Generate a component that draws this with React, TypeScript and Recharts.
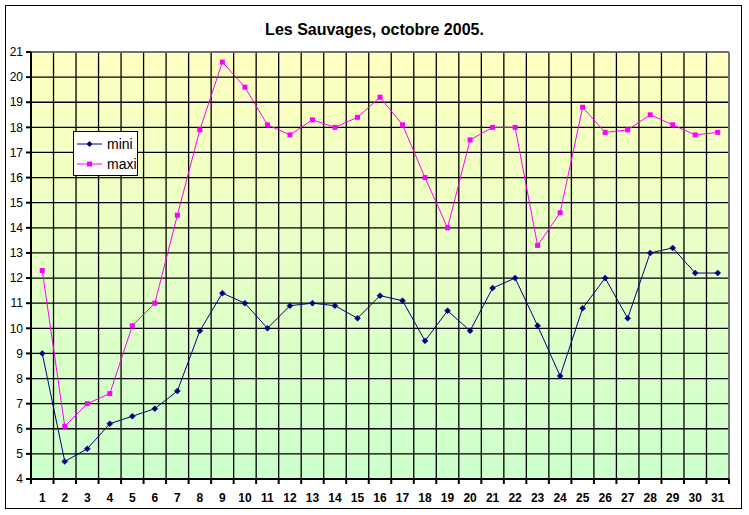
import React from 'react';
import { LineChart, Line, XAxis, YAxis, CartesianGrid, Legend, ReferenceLine } from 'recharts';

const days = [1,2,3,4,5,6,7,8,9,10,11,12,13,14,15,16,17,18,19,20,21,22,23,24,25,26,27,28,29,30,31];
const mini = [9.0,4.7,5.2,6.2,6.5,6.8,7.5,9.9,11.4,11.0,10.0,10.9,11.0,10.9,10.4,11.3,11.1,9.5,10.7,9.9,11.6,12.0,10.1,8.1,10.8,12.0,10.4,13.0,13.2,12.2,12.2];
const maxi = [12.3,6.1,7.0,7.4,10.1,11.0,14.5,17.9,20.6,19.6,18.1,17.7,18.3,18.0,18.4,19.2,18.1,16.0,14.0,17.5,18.0,18.0,13.3,14.6,18.8,17.8,17.9,18.5,18.1,17.7,17.8];
const yTicks = [4,5,6,7,8,9,10,11,12,13,14,15,16,17,18,19,20,21];
const boundaryTicks = [0.5,1.5,2.5,3.5,4.5,5.5,6.5,7.5,8.5,9.5,10.5,11.5,12.5,13.5,14.5,15.5,16.5,17.5,18.5,19.5,20.5,21.5,22.5,23.5,24.5,25.5,26.5,27.5,28.5,29.5,30.5,31.5];
const seriesNames = ['mini', 'maxi'];
const title = 'Les Sauvages, octobre 2005.';

const data = days.map((d, i) => ({ day: d, mini: mini[i], maxi: maxi[i] }));

const MINI_COLOR = '#000080';
const MAXI_COLOR = '#FF00FF';

const Diamond = (props: any) => {
  const { cx, cy, index } = props;
  if (cx == null || cy == null) return <g key={'d' + index} />;
  const s = 3;
  return (
    <polygon
      key={'d' + index}
      points={`${cx},${cy - s} ${cx + s},${cy} ${cx},${cy + s} ${cx - s},${cy}`}
      fill={MINI_COLOR}
      stroke={MINI_COLOR}
      strokeWidth={0.5}
    />
  );
};

const Square = (props: any) => {
  const { cx, cy, index } = props;
  if (cx == null || cy == null) return <g key={'s' + index} />;
  return <rect key={'s' + index} x={cx - 2.5} y={cy - 2.5} width={5} height={5} fill={MAXI_COLOR} />;
};

const LegendBox = (props: any) => {
  const payload = [...(props.payload || [])].sort(
    (a: any, b: any) => seriesNames.indexOf(a.value) - seriesNames.indexOf(b.value)
  );
  return (
    <div
      style={{
        border: '1px solid #000',
        background: '#fff',
        width: 65,
        height: 45,
        boxSizing: 'border-box',
        paddingTop: 2,
      }}
    >
      {payload.map((p: any) => (
        <div key={p.value} style={{ display: 'flex', alignItems: 'center', height: 20 }}>
          <svg width={33} height={10} style={{ display: 'block', flex: 'none' }}>
            <line x1={3} x2={28} y1={5} y2={5} stroke={p.color} strokeWidth={1} />
            {p.value === 'mini' ? (
              <polygon points="15.5,2 18.5,5 15.5,8 12.5,5" fill={p.color} />
            ) : (
              <rect x={13} y={2.5} width={5} height={5} fill={p.color} />
            )}
          </svg>
          <span style={{ fontSize: 14, color: '#000', lineHeight: '14px' }}>{p.value}</span>
        </div>
      ))}
    </div>
  );
};

export default function App() {
  return (
    <div
      style={{
        position: 'absolute',
        left: 0,
        top: 0,
        width: 749,
        height: 515,
        background: '#fff',
        fontFamily: '"Liberation Sans", Arial, sans-serif',
      }}
    >
      <div
        style={{
          position: 'absolute',
          left: 5,
          top: 5,
          width: 737,
          height: 504,
          border: '1px solid #000',
          boxSizing: 'border-box',
        }}
      />
      <div
        style={{
          position: 'absolute',
          left: 0,
          width: 749,
          top: 21,
          textAlign: 'center',
          fontSize: 16,
          fontWeight: 'bold',
          color: '#000',
        }}
      >
        {title}
      </div>
      <div style={{ position: 'absolute', left: 0, top: 0 }}>
        <LineChart width={749} height={515} data={data} margin={{ top: 52, right: 20, bottom: 0, left: 0 }}>
          <defs>
            <linearGradient id="bg" x1="0" y1="0" x2="0" y2="1">
              <stop offset="0%" stopColor="#FFFFC0" />
              <stop offset="100%" stopColor="#CCFFCC" />
            </linearGradient>
          </defs>
          <CartesianGrid
            xAxisId="grid"
            fill="url(#bg)"
            fillOpacity={1}
            stroke="#000"
            strokeWidth={1.3}
          />
          <XAxis
            xAxisId="grid"
            dataKey="day"
            type="number"
            domain={[0.5, 31.5]}
            ticks={boundaryTicks}
            interval={0}
            height={6}
            tickSize={5}
            tickFormatter={() => ''}
            axisLine={{ stroke: '#000', strokeWidth: 2 }}
            tickLine={{ stroke: '#000', strokeWidth: 2 }}
            allowDataOverflow
          />
          <XAxis
            xAxisId="label"
            dataKey="day"
            type="number"
            domain={[0.5, 31.5]}
            ticks={days}
            interval={0}
            height={30}
            tickSize={0}
            tickMargin={8}
            axisLine={false}
            tickLine={false}
            tick={{ fill: '#000', fontSize: 12, fontWeight: 'bold' }}
            allowDataOverflow
          />
          <YAxis
            type="number"
            domain={[4, 21]}
            ticks={yTicks}
            interval={0}
            width={31}
            tickSize={5}
            tickMargin={3}
            axisLine={{ stroke: '#000', strokeWidth: 2 }}
            tickLine={{ stroke: '#000', strokeWidth: 2 }}
            tick={{ fill: '#000', fontSize: 12 }}
            allowDataOverflow
          />
          <ReferenceLine xAxisId="grid" y={21} stroke="#808080" strokeWidth={1.5} />
          <ReferenceLine xAxisId="grid" x={31.5} stroke="#808080" strokeWidth={1.5} />
          <Legend
            layout="vertical"
            align="center"
            verticalAlign="middle"
            content={LegendBox}
            wrapperStyle={{ left: 73, top: 131, width: 65, height: 45 }}
          />
          <Line
            xAxisId="grid"
            type="linear"
            dataKey="mini"
            name="mini"
            stroke={MINI_COLOR}
            strokeWidth={1}
            dot={Diamond}
            activeDot={false}
            isAnimationActive={false}
          />
          <Line
            xAxisId="grid"
            type="linear"
            dataKey="maxi"
            name="maxi"
            stroke={MAXI_COLOR}
            strokeWidth={1}
            dot={Square}
            activeDot={false}
            isAnimationActive={false}
          />
        </LineChart>
      </div>
    </div>
  );
}
